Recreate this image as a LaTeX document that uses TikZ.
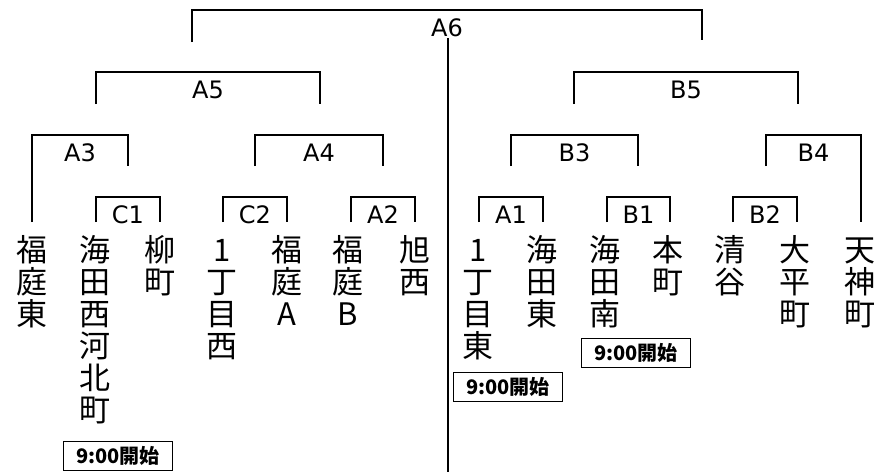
\documentclass[tikz,border=0pt]{standalone}
\usepackage{fontspec}
\setmainfont{Noto Sans CJK JP}
\newfontfamily\labelfont{DejaVu Sans}
\usetikzlibrary{positioning}

\begin{document}
\begin{tikzpicture}[x=1pt,y=-1pt,
      bracket/.style={line width=1.7pt},
      divider/.style={line width=2.3pt},
      match node/.style={inner sep=1pt,font=\labelfont\fontsize{24}{26}\selectfont},
      team node/.style={anchor=north,align=center,inner sep=0pt,
        font=\fontsize{31}{32}\selectfont},
      time node/.style={draw,line width=1.4pt,minimum width=109pt,
        minimum height=29pt,inner sep=0pt,font=\bfseries\fontsize{20}{22}\selectfont}]
    \useasboundingbox (0,0) rectangle (875,472);

    % teams
    \node[team node] (t1) at (32,235) {\vphantom{福}福\\庭\\東};
    \node[team node] (t2) at (95,235) {\vphantom{福}海\\田\\西\\河\\北\\町};
    \node[team node] (t3) at (160,235) {\vphantom{福}柳\\町};
    \node[team node] (t4) at (222,235) {\vphantom{福}1\\丁\\目\\西};
    \node[team node] (t5) at (287,235) {\vphantom{福}福\\庭\\A};
    \node[team node] (t6) at (348,235) {\vphantom{福}福\\庭\\B};
    \node[team node] (t7) at (415,235) {\vphantom{福}旭\\西};
    \node[team node] (t8) at (478,235) {\vphantom{福}1\\丁\\目\\東};
    \node[team node] (t9) at (542,235) {\vphantom{福}海\\田\\東};
    \node[team node] (t10) at (605,235) {\vphantom{福}海\\田\\南};
    \node[team node] (t11) at (668,235) {\vphantom{福}本\\町};
    \node[team node] (t12) at (730,235) {\vphantom{福}清\\谷};
    \node[team node] (t13) at (795,235) {\vphantom{福}大\\平\\町};
    \node[team node] (t14) at (860,235) {\vphantom{福}天\\神\\町};

    % start times
    \node[time node] (k1) at (118,456) {9:00開始};
    \node[time node] (k2) at (508,387) {9:00開始};
    \node[time node] (k3) at (636,353) {9:00開始};

    % brackets: name/left/right/top/left foot/right foot
    \foreach \n/\l/\r/\t/\bl/\br in {A6/192/702/10/42/40,
        A5/96/320/72/104/104, B5/574/798/72/104/104,
        A3/32/128/135/222/166, A4/255/383/135/166/166,
        B3/511/638/135/166/166, B4/766/861/135/166/222,
        C1/96/160/197/222/222, C2/223/287/197/222/222,
        A2/351/415/197/222/222, A1/479/543/197/222/222,
        B1/607/670/197/222/222, B2/733/797/197/222/222} {
      \coordinate (\n-l) at (\l,\bl);
      \coordinate (\n-r) at (\r,\br);
      \draw[bracket] (\n-l) |- (\r,\t) -- (\n-r);
      \node[match node] (\n) at ({(\l+\r)/2},\t+18) {\n};
    }

    \coordinate (bottom) at (448,472);
    \draw[divider] (A6.south -| bottom) -- (bottom);
\end{tikzpicture}
\end{document}
